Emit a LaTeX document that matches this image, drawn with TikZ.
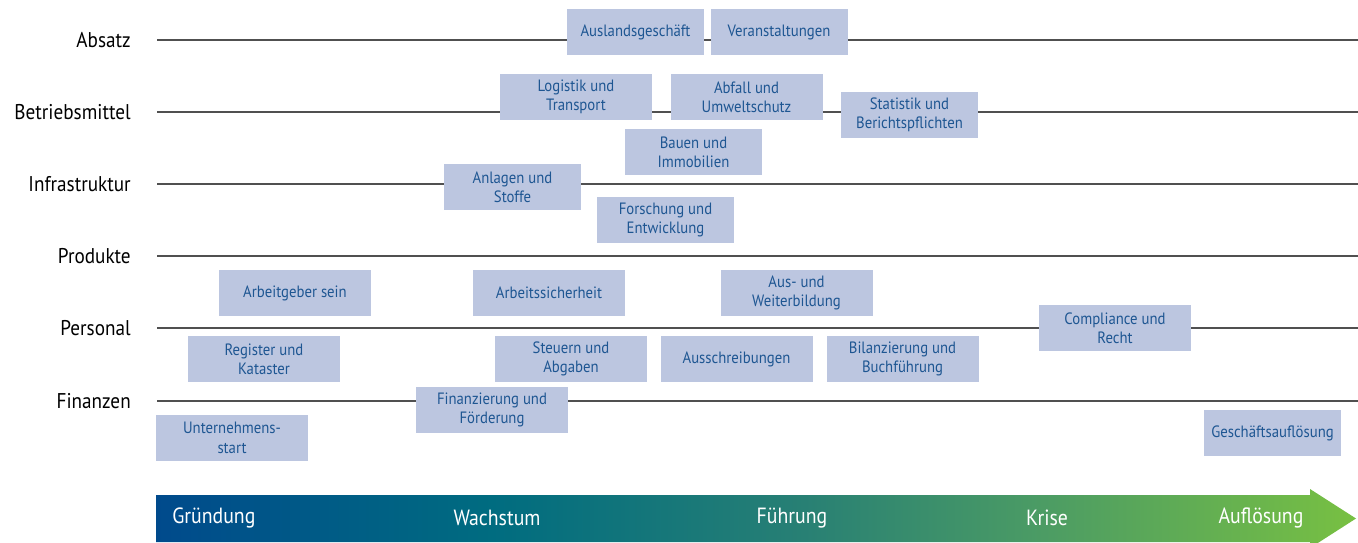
\documentclass[tikz,border=0pt]{standalone}
\usepackage{fontspec}
\setmainfont{PT Sans}[FakeStretch=0.9]
\usepackage{xcolor}
\usepackage{tikz}
\usetikzlibrary{positioning}
\definecolor{boxfill}{RGB}{188,198,224}
\definecolor{boxtext}{RGB}{30,86,146}
\definecolor{rowgray}{RGB}{80,80,80}
\definecolor{phA}{RGB}{0,74,140}
\definecolor{phB}{RGB}{0,108,128}
\definecolor{phC}{RGB}{40,128,116}
\definecolor{phD}{RGB}{76,156,100}
\definecolor{phE}{RGB}{120,192,66}
\pgfdeclarehorizontalshading{phaseshade}{100bp}{color(0bp)=(phA); color(25bp)=(phA); color(39bp)=(phB); color(52bp)=(phC); color(62bp)=(phD); color(75bp)=(phE); color(100bp)=(phE)}
\tikzset{
  rowlabel/.style={anchor=east, inner sep=0pt, font=\fontsize{16}{18}\selectfont},
  rowline/.style={rowgray, line width=1.1pt},
  topic/.style={fill=boxfill, text=boxtext, inner sep=0pt, align=center,
    minimum width=114pt, minimum height=34.5pt, font=\fontsize{12.3}{14.5}\selectfont},
  narrow/.style={minimum width=102.75pt},
  phase/.style={text=white, inner sep=0pt, font=\fontsize{16.5}{18}\selectfont}
}

\begin{document}
\begin{tikzpicture}[x=0.75pt, y=-0.75pt]
  \useasboundingbox (0,0) rectangle (1358,542);
  % ================================================================
  % rows
  % ================================================================
  \foreach \n/\y in {Absatz/40, Betriebsmittel/112, Infrastruktur/184, Produkte/256, Personal/328, Finanzen/401} {
    \node[rowlabel] (lbl-\n) at (131,\y) {\n};
    \coordinate (rl-\n) at (157,\y);
    \coordinate (rr-\n) at (1358,\y);
    \draw[rowline] (rl-\n) -- (rr-\n);
  }
  % topic boxes ----------------------------------------------------
  \node[topic, narrow] (ausland) at (635.5,32) {Auslandsgeschäft};
  \node[topic, narrow, right=4.5pt of ausland] (veranst) {Veranstaltungen};
  \node[topic] (logistik) at (576,97) {Logistik und\\Transport};
  \node[topic] (abfall) at (746.5,97) {Abfall und\\Umweltschutz};
  \node[topic, narrow] (statistik) at (909.5,115) {Statistik und\\Berichtspflichten};
  \node[topic, narrow] (bauen) at (693.5,152) {Bauen und\\Immobilien};
  \node[topic, narrow] (anlagen) at (512.5,187) {Anlagen und\\Stoffe};
  \node[topic, narrow] (forschung) at (665.5,220) {Forschung und\\Entwicklung};
  \node[topic] (arbgeber) at (295,293) {Arbeitgeber sein};
  \node[topic] (arbsicher) at (549,293) {Arbeitssicherheit};
  \node[topic] (weiterbild) at (796.5,293) {Aus- und\\Weiterbildung};
  \node[topic] (compliance) at (1115,328) {Compliance und\\Recht};
  \node[topic] (register) at (264,359) {Register und\\Kataster};
  \node[topic] (steuern) at (571,359) {Steuern und\\Abgaben};
  \node[topic] (ausschr) at (736.5,359) {Ausschreibungen};
  \node[topic] (bilanz) at (902.5,359) {Bilanzierung und\\Buchführung};
  \node[topic] (finanz) at (492,410) {Finanzierung und\\Förderung};
  \node[topic] (start) at (232,438) {Unternehmens-\\start};
  \node[topic, narrow] (aufloes) at (1272.5,433) {Geschäftsauflösung};
  % ================================================================
  % phase arrow
  % ================================================================
  \shade[shading=phaseshade] (156,495) -- (1310,495) -- (1310,489) -- (1356,518.5)
    -- (1310,548) -- (1310,542) -- (156,542) -- cycle;
  \node[phase, anchor=west] (gruendung) at (172,518) {Gründung};
  \node[phase] (wachstum) at (497,518) {Wachstum};
  \node[phase] (fuehrung) at (792,518) {Führung};
  \node[phase] (krise) at (1047,518) {Krise};
  \node[phase] (aufloesung) at (1261,518) {Auflösung};
\end{tikzpicture}
\end{document}
